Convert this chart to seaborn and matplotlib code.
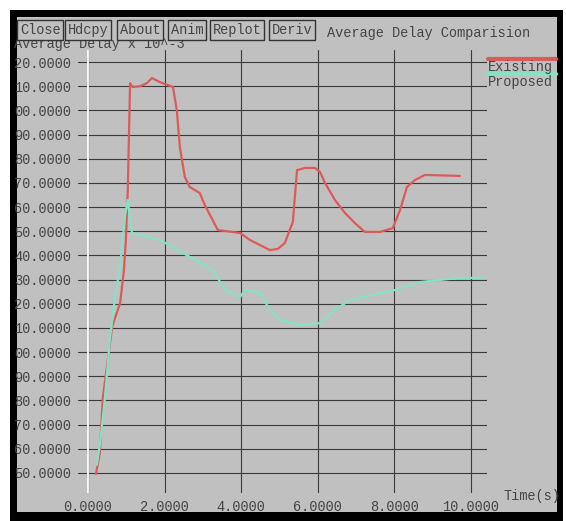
import matplotlib
matplotlib.use('Agg')
import matplotlib.pyplot as plt
import seaborn as sns
import pandas as pd
from matplotlib.patches import Rectangle

# Existing scheme (red)
existing_t = [0.21, 0.31, 0.39, 0.52, 0.63, 0.84, 0.94, 0.99, 1.04, 1.10, 1.17, 1.36, 1.54, 1.67,
              1.88, 2.22, 2.32, 2.40, 2.53, 2.66, 2.92, 3.05, 3.39, 3.97, 4.23, 4.75, 4.96, 5.14,
              5.27, 5.35, 5.46, 5.67, 5.93, 6.06, 6.19, 6.45, 6.71, 6.97, 7.23, 7.62, 7.96, 8.15,
              8.33, 8.54, 8.80, 9.71]
existing_v = [49.6, 58.3, 81.5, 96.8, 110.4, 120.3, 134.0, 146.4, 167.0, 211.3, 209.7, 210.0, 211.3,
              213.4, 211.7, 209.7, 200.1, 184.8, 172.4, 168.3, 165.8, 160.9, 150.5, 149.3, 146.4,
              142.2, 142.7, 145.1, 150.5, 153.8, 175.3, 176.2, 176.2, 174.5, 170.0, 162.9, 157.6,
              153.4, 149.7, 149.7, 151.3, 158.8, 168.3, 171.2, 173.3, 172.9]

# Proposed scheme (green)
proposed_t = [0.23, 0.31, 0.44, 0.57, 0.70, 0.84, 0.97, 1.04, 1.15, 1.88, 2.66, 3.26, 3.58, 3.97,
              4.10, 4.49, 4.75, 5.01, 5.54, 6.06, 6.45, 6.84, 8.02, 8.67, 9.71, 10.30]
proposed_v = [53.3, 61.6, 80.2, 105.0, 121.6, 136.0, 156.7, 162.9, 149.3, 146.4, 139.4, 134.0,
              125.7, 122.8, 125.7, 124.5, 117.4, 113.3, 111.2, 112.0, 117.4, 121.6, 125.7, 129.0,
              130.7, 130.7]

y_ticks = [220, 210, 200, 190, 180, 170, 160, 150, 140, 130, 120, 110, 100, 90, 80, 70, 60, 50]
y_labels = ['20.0000', '10.0000', '00.0000', '90.0000', '80.0000', '70.0000', '60.0000',
            '50.0000', '40.0000', '30.0000', '20.0000', '10.0000', '00.0000', '90.0000',
            '80.0000', '70.0000', '60.0000', '50.0000']
x_ticks = [0, 2, 4, 6, 8, 10]
x_labels = ['0.0000', '2.0000', '4.0000', '6.0000', '8.0000', '10.0000']
buttons = ['Close', 'Hdcpy', 'About', 'Anim', 'Replot', 'Deriv']

df = pd.concat([
    pd.DataFrame({'t': existing_t, 'v': existing_v, 'series': 'Existing'}),
    pd.DataFrame({'t': proposed_t, 'v': proposed_v, 'series': 'Proposed'}),
])

W, H = 566, 521
GRAY = '#c0c0c0'
RED = '#dd5a5a'
GREEN = '#86e2c4'
FONT = 'Liberation Mono'
TXT = '#454545'
FS = 9.8

def fx(px):
    return px / W

def fy(py):
    return 1 - py / H

sns.set_style('white')
plt.rcParams['font.family'] = [FONT, 'DejaVu Sans Mono']

fig = plt.figure(figsize=(W / 100, H / 100), dpi=100, facecolor='white')

# window frame
fig.patches.append(Rectangle((fx(10), fy(521)), fx(553), 511 / H, transform=fig.transFigure,
                             facecolor='black', edgecolor='none', zorder=-2))
fig.patches.append(Rectangle((fx(17), fy(512)), fx(540), 495 / H, transform=fig.transFigure,
                             facecolor=GRAY, edgecolor='none', zorder=-1))

ax = fig.add_axes([fx(78), fy(493), fx(487 - 78), (493 - 50) / H])
ax.set_zorder(1)
ax.set_facecolor(GRAY)

sns.lineplot(data=df, x='t', y='v', hue='series', palette={'Existing': RED, 'Proposed': GREEN},
             estimator=None, sort=False, legend=False, linewidth=1.6, ax=ax, zorder=3)

ax.set_xlim(-0.26, 10.42)
ax.set_ylim(41.7, 225)
ax.set_yticks(y_ticks)
ax.set_yticklabels(y_labels)
ax.set_xticks(x_ticks)
ax.set_xticklabels(x_labels)
ax.set_xlabel('')
ax.set_ylabel('')
for s in ax.spines.values():
    s.set_visible(False)
ax.grid(True, color='#3a3a3a', linewidth=0.8)
ax.axvline(0, color='white', linewidth=1.3, zorder=2)
ax.tick_params(axis='y', direction='out', length=4, width=0.8, color='#3a3a3a', pad=1,
               labelsize=FS, labelcolor=TXT)
ax.tick_params(axis='x', direction='out', length=0, pad=5, labelsize=FS, labelcolor=TXT)

# legend in xgraph style
fig.add_artist(plt.Line2D([fx(488), fx(556)], [fy(59), fy(59)], color=RED, lw=3))
fig.text(fx(488), fy(67), 'Existing', fontsize=FS, color=TXT, va='center', ha='left')
fig.add_artist(plt.Line2D([fx(488), fx(556)], [fy(74), fy(74)], color=GREEN, lw=3))
fig.text(fx(488), fy(82), 'Proposed', fontsize=FS, color=TXT, va='center', ha='left')

fig.text(fx(503), fy(496), 'Time(s)', fontsize=FS, color=TXT, va='center', ha='left')
fig.text(fx(14), fy(44), 'Average Delay x 10^-3', fontsize=FS, color=TXT, va='center', ha='left')

# button bar
button_x = [20, 68, 120, 171, 213, 272]
for name, bx in zip(buttons, button_x):
    fig.text(fx(bx), fy(30), name, fontsize=FS, color=TXT, va='center', ha='left',
             bbox=dict(boxstyle='square,pad=0.2', facecolor=GRAY, edgecolor='#333333', lw=1))
fig.text(fx(327), fy(33), 'Average Delay Comparision', fontsize=FS, color=TXT,
         va='center', ha='left')

fig.savefig('out.png', dpi=100, facecolor='white')
